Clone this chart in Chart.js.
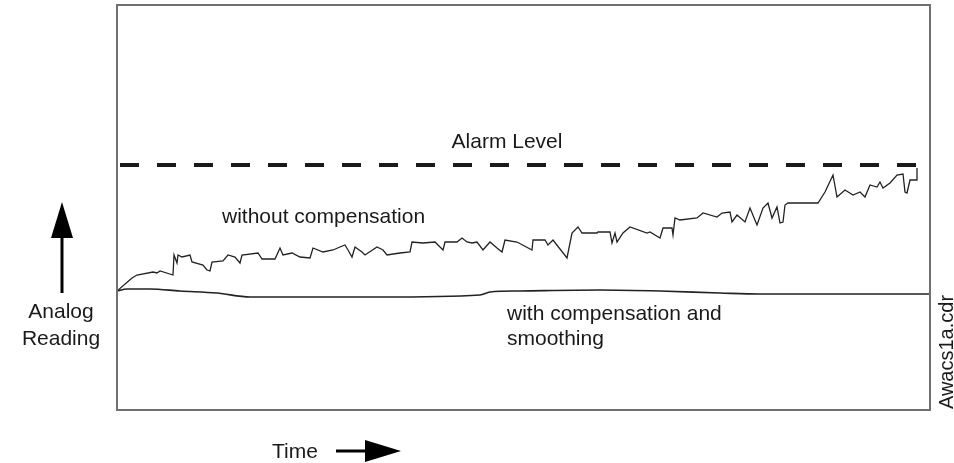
<!DOCTYPE html>
<html>
<head>
<meta charset="utf-8">
<script src="https://cdn.jsdelivr.net/npm/chart.js@4"></script>
<style>
  html, body { margin: 0; padding: 0; background: #fff; }
</style>
</head>
<body>
<canvas id="grafico" width="954" height="463"></canvas>
<script>
// Datos (tiempo / lectura en unidades arbitrarias)
const tiempoSin = [0, 15, 20, 36, 40, 43, 56, 57, 60, 61, 65, 73, 75, 86, 90, 93, 95, 106, 111, 118, 123, 125, 141, 145, 158, 163, 166, 175, 183, 193, 196, 206, 216, 223, 228, 231, 235, 238, 245, 248, 260, 266, 270, 283, 293, 295, 306, 318, 326, 328, 340, 345, 350, 355, 360, 366, 373, 380, 385, 388, 400, 415, 416, 428, 431, 436, 450, 455, 461, 465, 480, 481, 493, 495, 498, 500, 506, 513, 530, 533, 543, 546, 555, 556, 558, 563, 580, 586, 600, 605, 613, 615, 620, 628, 633, 640, 646, 651, 655, 660, 663, 666, 668, 671, 701, 708, 716, 720, 728, 736, 743, 748, 753, 760, 763, 766, 773, 780, 786, 788, 790, 793, 800, 800];
const lecturaSin = [119, 132, 135, 138, 137, 139, 135, 155, 147, 155, 153, 155, 148, 145, 140, 139, 148, 149, 155, 153, 147, 155, 157, 151, 151, 162, 155, 157, 153, 152, 162, 158, 160, 163, 165, 160, 153, 163, 158, 155, 163, 160, 155, 157, 158, 168, 167, 168, 160, 168, 168, 172, 168, 167, 168, 160, 168, 162, 158, 170, 168, 160, 170, 170, 165, 170, 152, 177, 183, 177, 177, 178, 178, 167, 177, 168, 177, 183, 177, 178, 172, 182, 182, 175, 192, 190, 192, 197, 193, 197, 198, 188, 195, 188, 202, 185, 202, 207, 192, 203, 187, 188, 205, 207, 207, 218, 235, 213, 220, 215, 218, 213, 225, 223, 228, 222, 227, 235, 236, 218, 217, 230, 230, 242];

const tiempoCon = [0, 10, 33, 63, 100, 133, 183, 263, 363, 373, 403, 483, 543, 603, 643, 813];
const lecturaCon = [119, 121, 121, 119, 117, 113, 113, 113, 115, 118, 119, 120, 119, 117, 116, 116];

const tiempoAlarma = [3, 800];
const nivelAlarma = [245, 245];

const etiquetas = {
    alarma: 'Alarm Level',
    sin: 'without compensation',
    con: ['with compensation and', 'smoothing'],
    eje: ['Analog', 'Reading'],
    tiempo: 'Time',
    archivo: 'Awacs1a.cdr'
};

const fuente = '21px "Liberation Sans", Arial, sans-serif';

function puntos(xs, ys) {
    return xs.map((x, i) => ({ x: x, y: ys[i] }));
}

// Marco del gráfico
const marco = {
    id: 'marco',
    afterDatasetsDraw(chart) {
        const a = chart.chartArea;
        const ctx = chart.ctx;
        ctx.save();
        ctx.strokeStyle = '#707070';
        ctx.lineWidth = 2;
        ctx.strokeRect(a.left, a.top, a.right - a.left, a.bottom - a.top);
        ctx.restore();
    }
};

// Textos y flechas
const anotaciones = {
    id: 'anotaciones',
    afterDraw(chart) {
        const ctx = chart.ctx;
        ctx.save();
        ctx.fillStyle = '#1a1a1a';
        ctx.font = fuente;
        ctx.textBaseline = 'alphabetic';

        ctx.textAlign = 'center';
        ctx.fillText(etiquetas.alarma, 507, 148);
        ctx.fillText(etiquetas.eje[0], 61, 318);
        ctx.fillText(etiquetas.eje[1], 61, 345);

        ctx.textAlign = 'left';
        ctx.fillText(etiquetas.sin, 222, 223);
        ctx.fillText(etiquetas.con[0], 507, 320);
        ctx.fillText(etiquetas.con[1], 507, 345);
        ctx.fillText(etiquetas.tiempo, 272, 458);

        // flecha vertical
        ctx.strokeStyle = '#000';
        ctx.fillStyle = '#000';
        ctx.lineWidth = 3;
        ctx.beginPath();
        ctx.moveTo(62, 293);
        ctx.lineTo(62, 232);
        ctx.stroke();
        ctx.beginPath();
        ctx.moveTo(62, 202);
        ctx.lineTo(73, 238);
        ctx.lineTo(51, 238);
        ctx.closePath();
        ctx.fill();

        // flecha horizontal
        ctx.beginPath();
        ctx.moveTo(336, 451);
        ctx.lineTo(372, 451);
        ctx.stroke();
        ctx.beginPath();
        ctx.moveTo(401, 451);
        ctx.lineTo(365, 440);
        ctx.lineTo(365, 462);
        ctx.closePath();
        ctx.fill();

        // nombre del archivo, girado
        ctx.fillStyle = '#1a1a1a';
        ctx.translate(953, 352);
        ctx.rotate(-Math.PI / 2);
        ctx.textAlign = 'center';
        ctx.font = '20px "Liberation Sans", Arial, sans-serif';
        ctx.fillText(etiquetas.archivo, 0, 0);
        ctx.restore();
    }
};

const ctx = document.getElementById('grafico').getContext('2d');

new Chart(ctx, {
    type: 'scatter',
    data: {
        datasets: [
            {
                label: etiquetas.alarma,
                data: puntos(tiempoAlarma, nivelAlarma),
                showLine: true,
                borderColor: '#1a1a1a',
                borderWidth: 4,
                borderDash: [19, 18],
                borderCapStyle: 'butt',
                pointRadius: 0
            },
            {
                label: etiquetas.sin,
                data: puntos(tiempoSin, lecturaSin),
                showLine: true,
                borderColor: '#222',
                borderWidth: 1.3,
                pointRadius: 0,
                tension: 0
            },
            {
                label: etiquetas.con.join(' '),
                data: puntos(tiempoCon, lecturaCon),
                showLine: true,
                borderColor: '#222',
                borderWidth: 1.6,
                pointRadius: 0,
                cubicInterpolationMode: 'monotone'
            }
        ]
    },
    options: {
        responsive: false,
        animation: false,
        layout: {
            padding: { left: 117, top: 5, right: 24, bottom: 53 }
        },
        plugins: {
            legend: { display: false },
            tooltip: { enabled: false }
        },
        scales: {
            x: { type: 'linear', min: 0, max: 813, display: false },
            y: { type: 'linear', min: 0, max: 405, display: false }
        }
    },
    plugins: [marco, anotaciones]
});
</script>
</body>
</html>
